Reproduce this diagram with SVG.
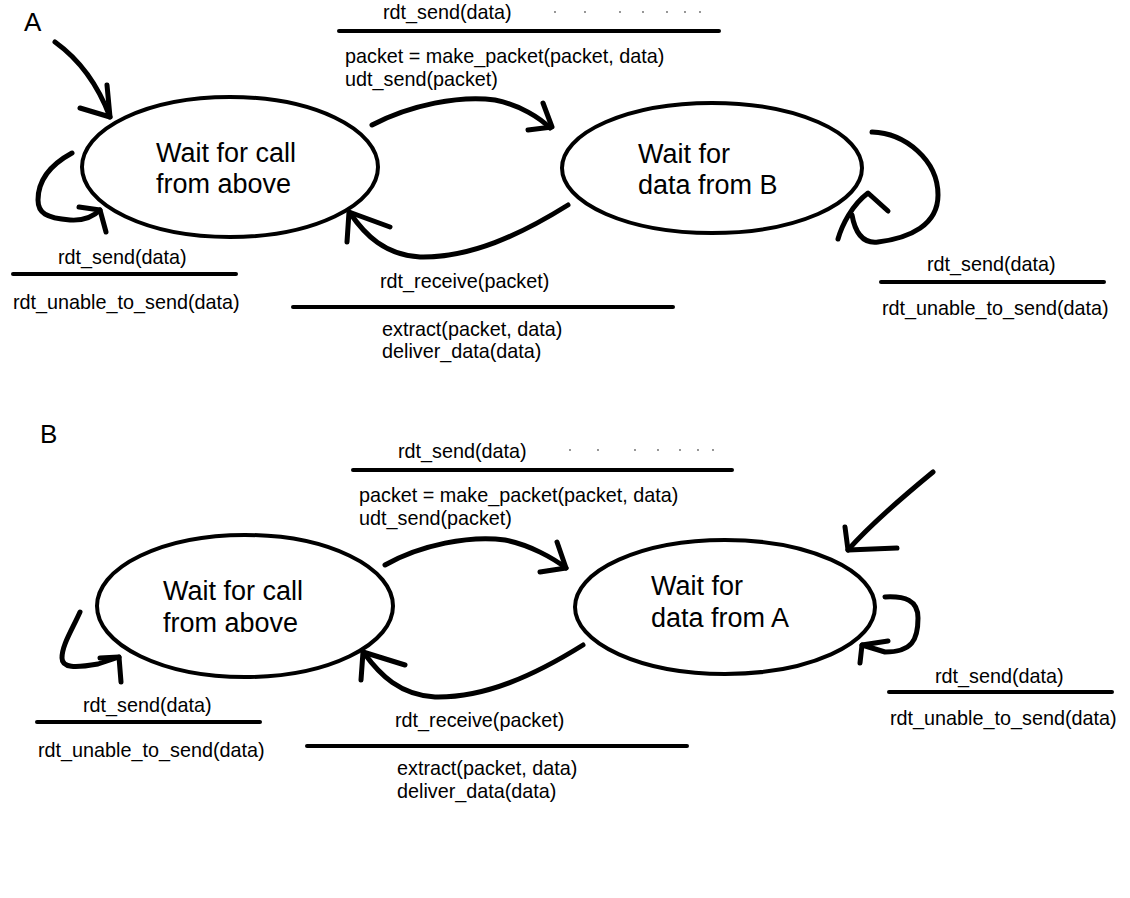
<svg xmlns="http://www.w3.org/2000/svg" width="1130" height="898" viewBox="0 0 1130 898">
<style>
.bg{fill:#fff}
.state{fill:none;stroke:#000;stroke-width:4}
.st{font-family:"Liberation Sans",Arial,sans-serif;font-size:27px;fill:#000}
.lbl{font-family:"Liberation Sans",Arial,sans-serif;font-size:19.8px;fill:#000}
.big{font-family:"Liberation Sans",Arial,sans-serif;font-size:26px;fill:#000}
.bar{stroke:#000;stroke-width:4;stroke-linecap:round}
.arr{fill:none;stroke:#000;stroke-width:5;stroke-linecap:round;stroke-linejoin:round}
.dot{fill:#666}
</style>
<rect class="bg" x="0" y="0" width="1130" height="898"/>

<!-- Machine A -->
<text class="big" x="24" y="31">A</text>
<g id="A_wait_call">
  <ellipse class="state" cx="230" cy="167" rx="148" ry="70"/>
  <text class="st" x="156" y="162">Wait for call</text>
  <text class="st" x="156" y="193">from above</text>
</g>
<g id="A_wait_data">
  <ellipse class="state" cx="712" cy="168" rx="150" ry="65"/>
  <text class="st" x="638" y="163">Wait for</text>
  <text class="st" x="638" y="194">data from B</text>
</g>

<!-- Machine B -->
<text class="big" x="40" y="443">B</text>
<g id="B_wait_call">
  <ellipse class="state" cx="245" cy="606" rx="148" ry="71"/>
  <text class="st" x="163" y="600">Wait for call</text>
  <text class="st" x="163" y="632">from above</text>
</g>
<g id="B_wait_data">
  <ellipse class="state" cx="725" cy="607" rx="150" ry="67"/>
  <text class="st" x="651" y="595">Wait for</text>
  <text class="st" x="651" y="627">data from A</text>
</g>

<g id="connectors">
  <!-- A initial -->
  <path class="arr" d="M55,42 C80,60 98,85 110,117"/>
  <path class="arr" d="M107,85 L110,117 L80,108"/>
  <!-- A send -->
  <path class="arr" d="M372,125 C410,105 460,95 495,100 C520,105 540,118 550,128"/>
  <path class="arr" d="M543,103 L552,127 L528,130"/>
  <!-- A left self loop -->
  <path class="arr" d="M72,153 C50,165 38,180 38,200 C38,213 46,218 70,220 C85,221 95,215 100,210"/>
  <path class="arr" d="M79,207 L100,210 L106,232"/>
  <!-- A receive -->
  <path class="arr" d="M568,205 C520,235 470,258 420,257 C385,255 365,235 350,213"/>
  <path class="arr" d="M390,227 L349,212 L347,242"/>
  <!-- A right self loop -->
  <path class="arr" d="M872,132 C905,133 938,160 938,195 C938,225 910,238 878,242 C862,244 855,232 852,215"/>
  <path class="arr" d="M838,239 C842,225 852,205 868,193 L888,211"/>

  <!-- B initial -->
  <path class="arr" d="M933,472 C905,495 870,525 848,550"/>
  <path class="arr" d="M845,527 L848,550 L897,548"/>
  <!-- B send -->
  <path class="arr" d="M385,565 C420,545 470,535 505,540 C530,545 553,558 566,568"/>
  <path class="arr" d="M557,542 L566,568 L540,572"/>
  <!-- B left self loop -->
  <path class="arr" d="M80,612 C72,630 62,645 62,658 C62,668 75,668 98,664 L119,657"/>
  <path class="arr" d="M100,658 L119,657 L121,682"/>
  <!-- B receive -->
  <path class="arr" d="M583,645 C535,675 485,698 435,697 C400,695 380,675 364,653"/>
  <path class="arr" d="M405,665 L363,652 L361,680"/>
  <!-- B right self loop -->
  <path class="arr" d="M885,597 C905,596 918,600 918,618 C918,640 912,652 885,652 L862,645"/>
  <path class="arr" d="M888,641 L862,645 L860,663"/>
</g>

<g id="labels">
  <!-- A top -->
  <text class="lbl" x="383" y="19">rdt_send(data)</text>
  <g class="dot">
    <circle cx="555" cy="12" r="0.9"/><circle cx="585" cy="12" r="0.9"/><circle cx="620" cy="12" r="0.9"/>
    <circle cx="643" cy="12" r="0.9"/><circle cx="667" cy="12" r="0.9"/><circle cx="685" cy="12" r="0.9"/><circle cx="700" cy="12" r="0.9"/>
  </g>
  <line class="bar" x1="339" y1="31" x2="719" y2="31"/>
  <text class="lbl" x="345" y="63">packet = make_packet(packet, data)</text>
  <text class="lbl" x="345" y="86">udt_send(packet)</text>
  <!-- A left -->
  <text class="lbl" x="58" y="264">rdt_send(data)</text>
  <line class="bar" x1="13" y1="274" x2="236" y2="274"/>
  <text class="lbl" x="13" y="309">rdt_unable_to_send(data)</text>
  <!-- A receive -->
  <text class="lbl" x="380" y="288">rdt_receive(packet)</text>
  <line class="bar" x1="293" y1="307" x2="673" y2="307"/>
  <text class="lbl" x="382" y="336">extract(packet, data)</text>
  <text class="lbl" x="382" y="358">deliver_data(data)</text>
  <!-- A right -->
  <text class="lbl" x="927" y="271">rdt_send(data)</text>
  <line class="bar" x1="881" y1="282" x2="1104" y2="282"/>
  <text class="lbl" x="882" y="315">rdt_unable_to_send(data)</text>

  <!-- B top -->
  <text class="lbl" x="398" y="458">rdt_send(data)</text>
  <g class="dot">
    <circle cx="570" cy="450" r="0.9"/><circle cx="598" cy="450" r="0.9"/><circle cx="635" cy="450" r="0.9"/>
    <circle cx="658" cy="450" r="0.9"/><circle cx="680" cy="450" r="0.9"/><circle cx="698" cy="450" r="0.9"/><circle cx="713" cy="450" r="0.9"/>
  </g>
  <line class="bar" x1="353" y1="470" x2="732" y2="470"/>
  <text class="lbl" x="359" y="502">packet = make_packet(packet, data)</text>
  <text class="lbl" x="359" y="525">udt_send(packet)</text>
  <!-- B left -->
  <text class="lbl" x="83" y="712">rdt_send(data)</text>
  <line class="bar" x1="37" y1="722" x2="260" y2="722"/>
  <text class="lbl" x="38" y="757">rdt_unable_to_send(data)</text>
  <!-- B receive -->
  <text class="lbl" x="395" y="727">rdt_receive(packet)</text>
  <line class="bar" x1="307" y1="746" x2="687" y2="746"/>
  <text class="lbl" x="397" y="775">extract(packet, data)</text>
  <text class="lbl" x="397" y="798">deliver_data(data)</text>
  <!-- B right -->
  <text class="lbl" x="935" y="683">rdt_send(data)</text>
  <line class="bar" x1="889" y1="692" x2="1112" y2="692"/>
  <text class="lbl" x="890" y="725">rdt_unable_to_send(data)</text>
</g>
</svg>
